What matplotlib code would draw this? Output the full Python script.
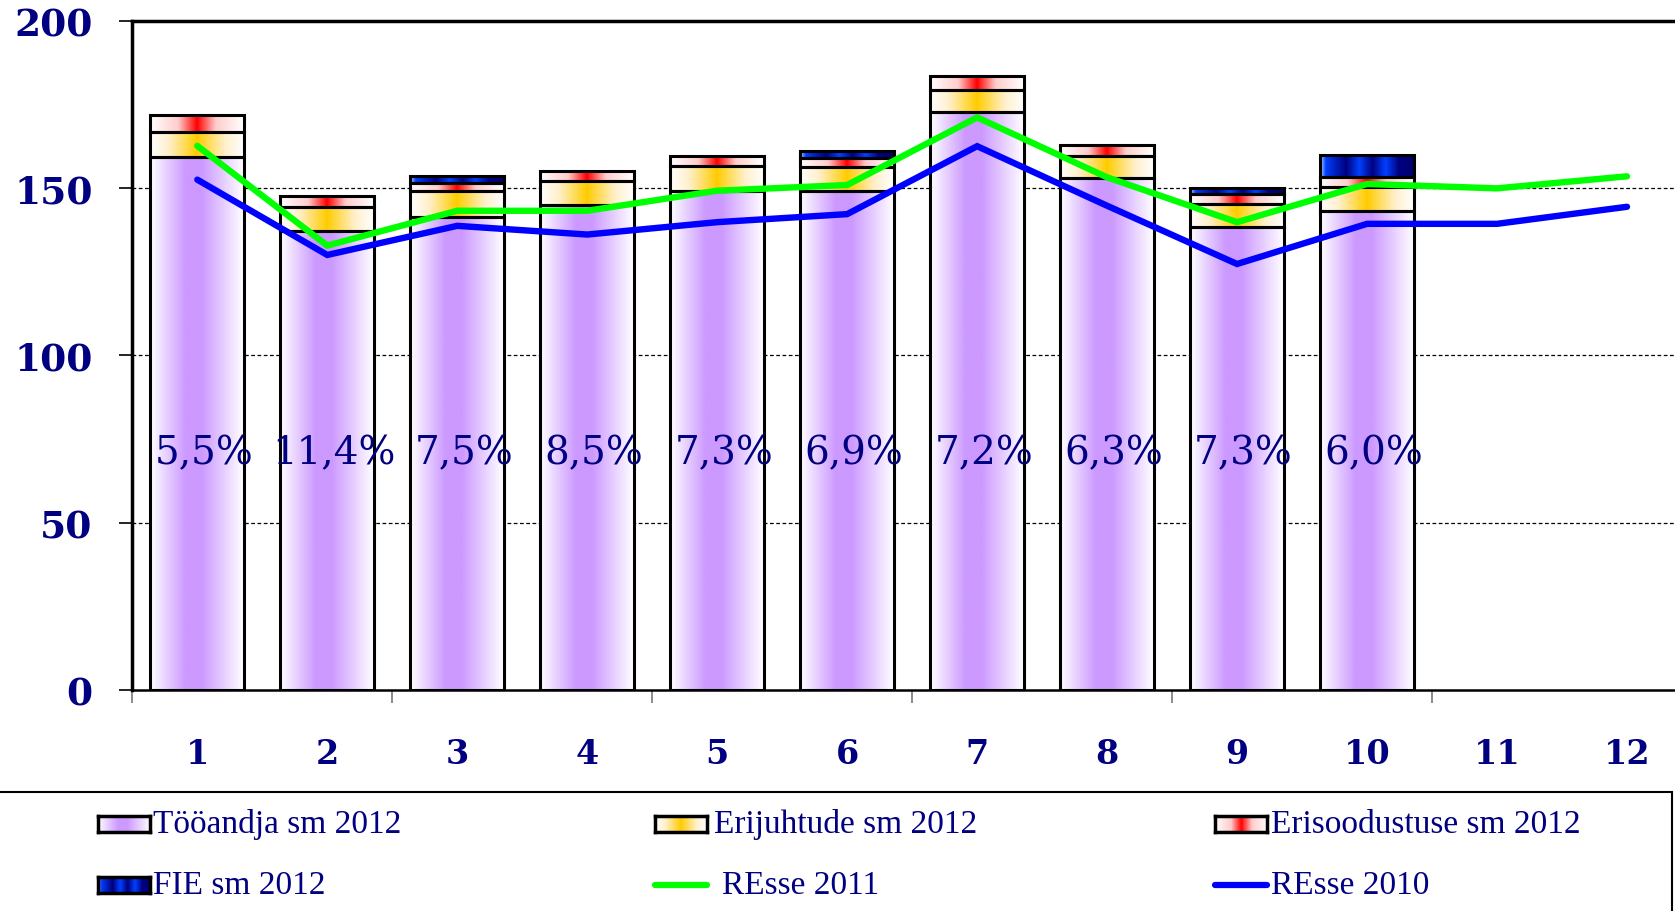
import numpy as np
import matplotlib
matplotlib.use("Agg")
import matplotlib.pyplot as plt
from matplotlib.colors import to_rgb
from matplotlib.patches import Rectangle
from matplotlib.lines import Line2D

# data
months = list(range(1, 13))
bar_months = list(range(1, 11))
tooandja = [159.2, 137.2, 141.3, 144.9, 149.2, 149.0, 172.6, 153.0, 138.3, 143.2]
erijuhtude = [7.5, 7.2, 7.7, 7.1, 7.5, 7.4, 6.8, 6.7, 6.9, 7.2]
erisoodustuse = [5.1, 3.3, 2.5, 3.2, 3.0, 2.6, 4.0, 3.2, 3.0, 2.8]
fie = [0, 0, 2.2, 0, 0, 2.2, 0, 0, 1.7, 6.8]
resse_2011 = [162.6, 132.8, 143.2, 143.2, 149.2, 150.9, 171.1, 153.2, 139.8, 151.2, 149.9, 153.5]
resse_2010 = [152.5, 130.0, 138.7, 136.1, 139.8, 142.2, 162.5, 144.7, 127.3, 139.3, 139.3, 144.4]
pct_labels = ["5,5%", "11,4%", "7,5%", "8,5%", "7,3%", "6,9%", "7,2%", "6,3%", "7,3%", "6,0%"]
series_names = ["Tööandja sm 2012", "Erijuhtude sm 2012", "Erisoodustuse sm 2012",
                "FIE sm 2012", "REsse 2011", "REsse 2010"]

NAVY = "#000080"

# horizontal gradients used for the bar segments
gradients = {
    "purple": ([0, 0.38, 0.55, 1.0], ["#ffffff", "#cc99ff", "#cc99ff", "#ffffff"]),
    "orange": ([0, 0.2, 0.5, 0.8, 1.0], ["#ffffff", "#fff0cc", "#ffcc00", "#fff0cc", "#ffffff"]),
    "red": ([0, 0.3, 0.5, 0.7, 1.0], ["#ffffff", "#ffcccc", "#ff0000", "#ffcccc", "#ffffff"]),
    "blue": ([0, 0.06, 0.16, 0.28, 0.42, 0.56, 0.70, 0.84, 1.0],
             ["#c0d8ff", "#0040ff", "#0020c0", "#000080", "#0040ff", "#000080",
              "#0040ff", "#000080", "#000070"]),
}


def grad_img(name, n=256):
    stops, cols = gradients[name]
    t = np.linspace(0, 1, n)
    rgb = np.array([to_rgb(c) for c in cols])
    arr = np.stack([np.interp(t, stops, rgb[:, k]) for k in range(3)], axis=-1)
    return arr[np.newaxis, :, :]


W, H = 1675, 912
fig = plt.figure(figsize=(W / 100, H / 100), dpi=100)
ax = fig.add_axes([132.3 / W, 1 - 691 / H, (1692 - 132.3) / W, (691 - 21.7) / H])

width = 0.72
segments = [(tooandja, "purple"), (erijuhtude, "orange"), (erisoodustuse, "red"), (fie, "blue")]
for i, x in enumerate(bar_months):
    bottom = 0
    for vals, gname in segments:
        h = vals[i]
        if h <= 0:
            continue
        ax.imshow(grad_img(gname), extent=(x - width / 2, x + width / 2, bottom, bottom + h),
                  aspect="auto", origin="lower", interpolation="bilinear", zorder=2)
        ax.bar(x, h, bottom=bottom, width=width, fill=False, edgecolor="black",
               linewidth=2.2, zorder=3)
        bottom += h

ax.plot(months, resse_2011, color="#00ff00", lw=4.6, solid_capstyle="round",
        solid_joinstyle="miter", zorder=4)
ax.plot(months, resse_2010, color="#0000ff", lw=4.6, solid_capstyle="round",
        solid_joinstyle="miter", zorder=4)

for x, lab in zip(bar_months, pct_labels):
    ax.text(x + 0.05, 71, lab, ha="center", va="center", fontsize=28,
            family="DejaVu Serif", color=NAVY, zorder=5)

ax.set_xlim(0.5, 12.5)
ax.set_ylim(0, 200)

# grid
for yv in [50, 100, 150]:
    ax.axhline(yv, color="black", lw=0.9, ls=(0, (3, 2)), zorder=1)

# ticks
ax.set_yticks([0, 50, 100, 150, 200])
ax.set_yticklabels(["0", "50", "100", "150", "200"])
ax.tick_params(axis="y", direction="out", length=9.5, width=1.2, color="black",
               pad=19, labelsize=27, labelcolor=NAVY)
for t in ax.get_yticklabels():
    t.set_family("DejaVu Serif")
    t.set_fontweight("bold")

ax.set_xticks(np.arange(0.5, 12.6, 2))
ax.set_xticklabels([])
ax.set_xticks(months, minor=True)
ax.set_xticklabels([str(m) for m in months], minor=True)
ax.tick_params(axis="x", which="major", direction="out", length=9.5, width=1.2, color="#777777")
ax.tick_params(axis="x", which="minor", length=0, pad=34, labelsize=24, labelcolor=NAVY)
for t in ax.get_xticklabels(minor=True):
    t.set_family("DejaVu Serif")
    t.set_fontweight("bold")

ax.spines["left"].set_linewidth(2.5)
ax.spines["top"].set_linewidth(2.5)
ax.spines["bottom"].set_linewidth(1.8)
ax.spines["right"].set_visible(False)

# legend frame (left edge runs off the picture)
fig.add_artist(Rectangle((-0.01, -0.01), 1672 / W + 0.01, (H - 793) / H + 0.01,
                         transform=fig.transFigure, fill=False, edgecolor="black", lw=1.5))

# legend entries: (handle left px, row centre px, text left px)
entries = [
    (98, 825, 153, "purple"), (655, 825, 714, "orange"), (1215, 825, 1271, "red"),
    (98, 886, 153, "blue"), (655, 886, 722, "#00ff00"), (1215, 886, 1271, "#0000ff"),
]
for (hx, hy, tx, style), name in zip(entries, series_names):
    if style in gradients:
        hax = fig.add_axes([hx / W, 1 - (hy + 8) / H, 52 / W, 16 / H])
        hax.imshow(grad_img(style), aspect="auto", interpolation="bilinear")
        hax.set_xticks([])
        hax.set_yticks([])
        for sp in hax.spines.values():
            sp.set_linewidth(2.5)
    else:
        fig.add_artist(Line2D([hx / W, (hx + 52) / W], [1 - hy / H, 1 - hy / H],
                              transform=fig.transFigure, color=style, lw=4.5,
                              solid_capstyle="round"))
    fig.text(tx / W, 1 - hy / H, name, ha="left", va="center", fontsize=24,
             family="Liberation Serif", color=NAVY)

fig.savefig("out.png", dpi=100)
